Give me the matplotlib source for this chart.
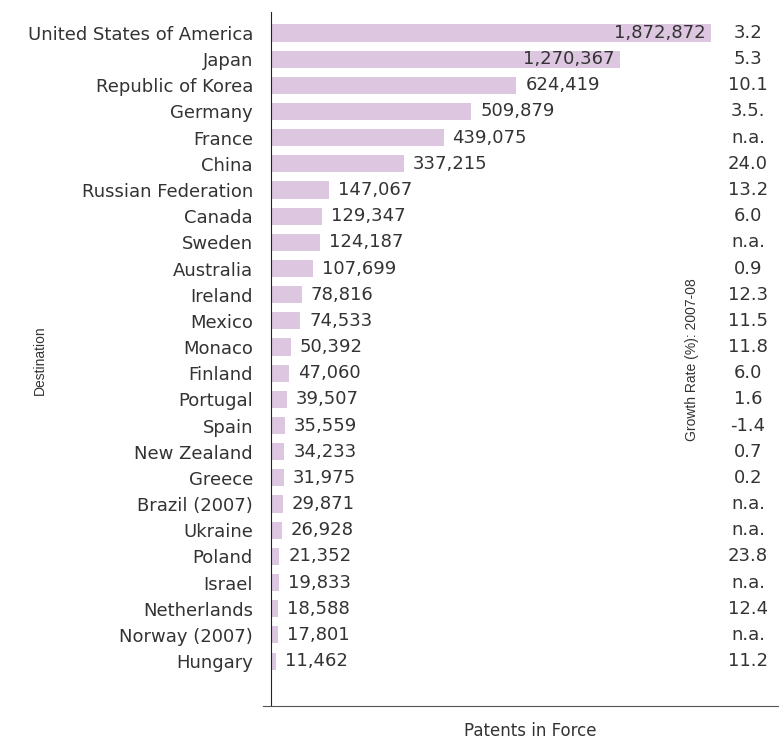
import matplotlib
matplotlib.use("Agg")
import matplotlib.pyplot as plt
import numpy as np

countries = [
    "United States of America", "Japan", "Republic of Korea", "Germany", "France",
    "China", "Russian Federation", "Canada", "Sweden", "Australia", "Ireland",
    "Mexico", "Monaco", "Finland", "Portugal", "Spain", "New Zealand", "Greece",
    "Brazil (2007)", "Ukraine", "Poland", "Israel", "Netherlands", "Norway (2007)",
    "Hungary",
]
patents = [
    1872872, 1270367, 624419, 509879, 439075, 337215, 147067, 129347, 124187,
    107699, 78816, 74533, 50392, 47060, 39507, 35559, 34233, 31975, 29871,
    26928, 21352, 19833, 18588, 17801, 11462,
]
growth = [
    "3.2", "5.3", "10.1", "3.5.", "n.a.", "24.0", "13.2", "6.0", "n.a.", "0.9",
    "12.3", "11.5", "11.8", "6.0", "1.6", "-1.4", "0.7", "0.2", "n.a.", "n.a.",
    "23.8", "n.a.", "12.4", "n.a.", "11.2",
]

# the two largest bars are drawn shortened (broken scale above this value)
BREAK = 650000
SQUEEZE = 0.385


def forward(v):
    v = np.asarray(v, dtype=float)
    return np.where(v > BREAK, BREAK + (v - BREAK) * SQUEEZE, v)


def inverse(d):
    d = np.asarray(d, dtype=float)
    return np.where(d > BREAK, BREAK + (d - BREAK) / SQUEEZE, d)


TEXT = "#333333"
SIZE = 13
plt.rcParams["font.family"] = ["DejaVu Sans"]

fig = plt.figure(figsize=(7.79, 7.41), dpi=100)
ax = fig.add_axes([263 / 779, 1 - 706 / 741, 1 - 263 / 779, (706 - 12) / 741])
ax.set_xscale("function", functions=(forward, inverse))

y = list(range(len(countries)))
ax.barh(y, patents, height=0.65, color="#dcc6e0")

px = 1 / 3.93e-4  # data units per pixel on the linear part
ax.set_xlim(-8 * px, float(inverse((779 - 271) * px)))
ax.set_ylim(24 + 45 / 26.17, -21 / 26.17)

col = matplotlib.transforms.blended_transform_factory(fig.transFigure, ax.transData)
for i, v in enumerate(patents):
    label = f"{v:,}"
    end = float(forward(v))
    if i < 2:
        ax.text(float(inverse(end - 6 * px)), i, label, ha="right", va="center",
                fontsize=SIZE, color=TEXT)
    else:
        ax.text(float(inverse(end + 9 * px)), i, label, ha="left", va="center",
                fontsize=SIZE, color=TEXT)
    ax.text(748 / 779, i, growth[i], transform=col, ha="center", va="center",
            fontsize=SIZE, color=TEXT)

ax.set_yticks(y)
ax.set_yticklabels(countries)
ax.tick_params(axis="y", length=0, pad=13, labelsize=SIZE, labelcolor=TEXT)
ax.set_xticks([])
ax.minorticks_off()

for side in ["top", "right"]:
    ax.spines[side].set_visible(False)
ax.spines["left"].set_position(("data", 0))
ax.spines["left"].set_color("#222222")
ax.spines["bottom"].set_color("#555555")

NARROW = ["Liberation Sans Narrow", "Liberation Sans"]
fig.text(40 / 779, 1 - 360 / 741, "Destination", rotation=90, ha="center", va="center",
         fontsize=10, color=TEXT, family=NARROW)
fig.text(692 / 779, 1 - 360 / 741, "Growth Rate (%): 2007-08", rotation=90, ha="center",
         va="center", fontsize=10, color=TEXT, family=NARROW)
fig.text(530 / 779, 1 - 740 / 741, "Patents in Force", ha="center", va="bottom",
         fontsize=12, color=TEXT)

fig.savefig("out.png", dpi=100)
